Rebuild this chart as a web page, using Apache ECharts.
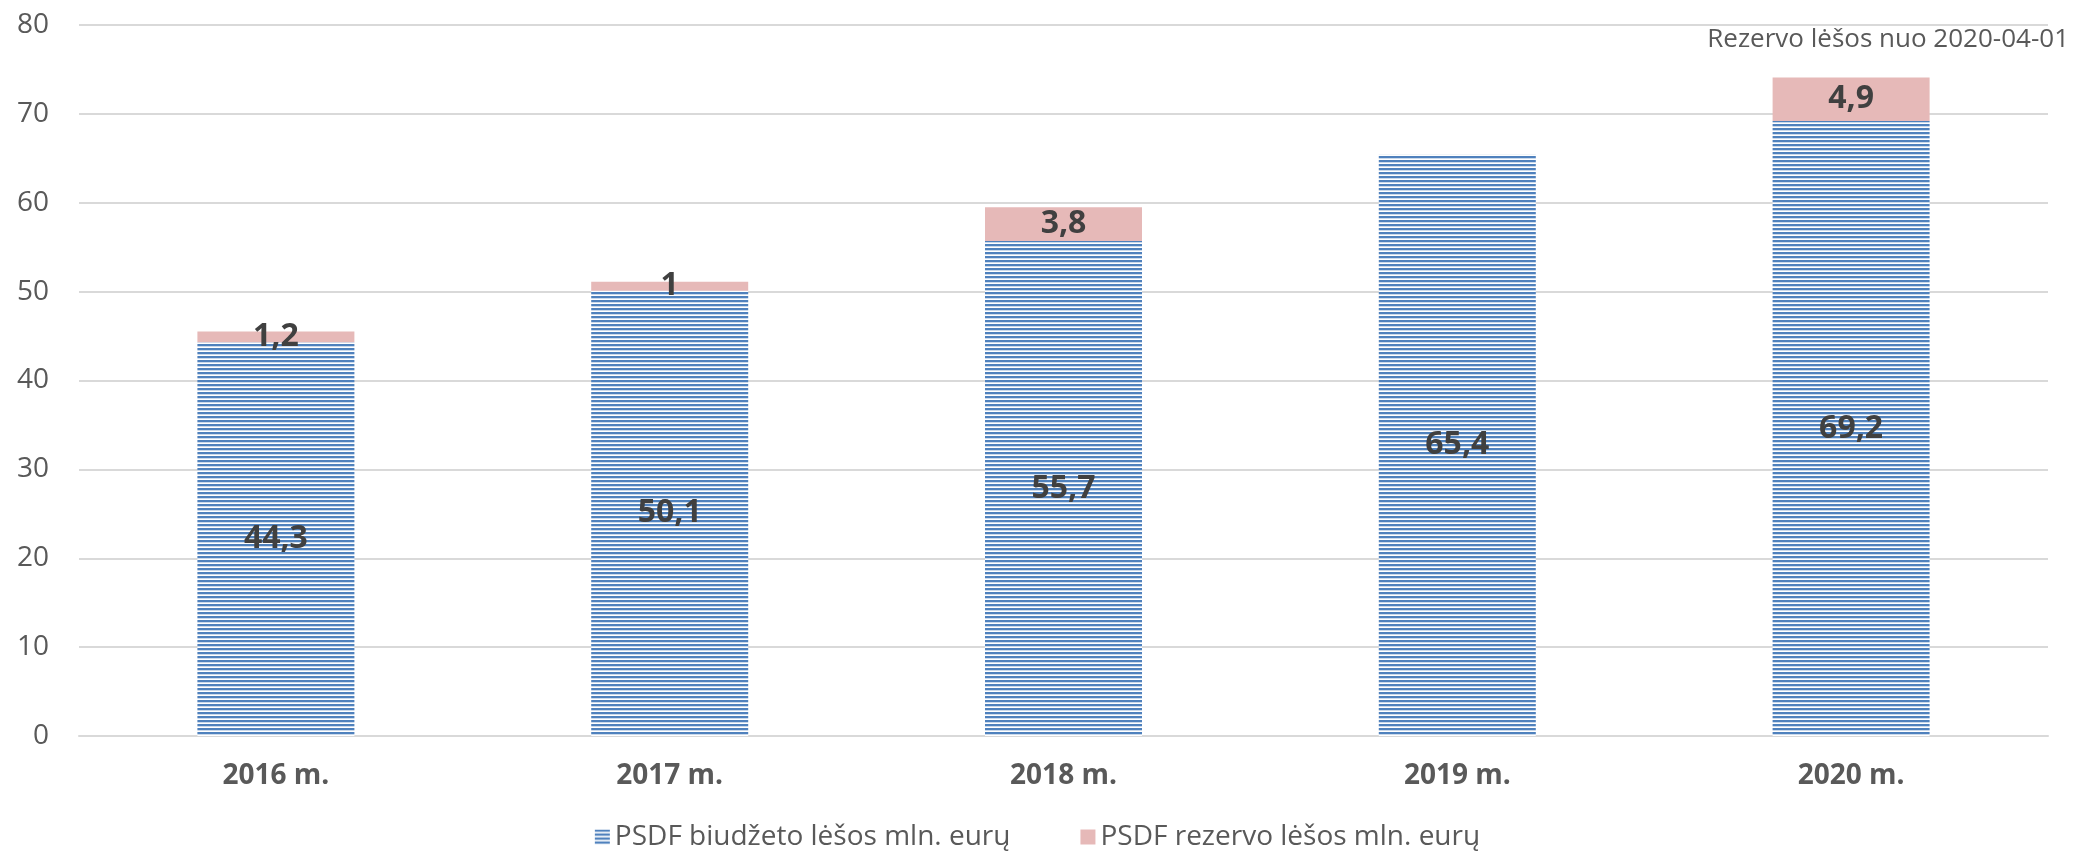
<!DOCTYPE html>
<html>
<head>
<meta charset="utf-8">
<script src="https://cdn.jsdelivr.net/npm/echarts@6/dist/echarts.min.js"></script>
<style>html,body{margin:0;padding:0;background:#fff}#c{width:2075px;height:856px}</style>
</head>
<body>
<div id="c"></div>
<script>
const categories = ['2016 m.', '2017 m.', '2018 m.', '2019 m.', '2020 m.'];
const budgetValues = [44.3, 50.1, 55.7, 65.4, 69.2];
const reserveValues = [1.2, 1.0, 3.8, null, 4.9];
const seriesNames = ['PSDF biudžeto lėšos mln. eurų', 'PSDF rezervo lėšos mln. eurų'];
const yTicks = { min: 0, max: 80, interval: 10 };
const note = 'Rezervo lėšos nuo 2020-04-01';

const blue = '#4F81BD';
const pink = '#E6B9B8';

function stripeCanvas() {
  const c = document.createElement('canvas');
  c.width = 8; c.height = 4;
  const g = c.getContext('2d');
  g.fillStyle = '#ffffff'; g.fillRect(0, 0, 8, 4);
  g.fillStyle = blue; g.fillRect(0, 0, 8, 2);
  g.globalAlpha = 0.3; g.fillRect(0, 2, 8, 1);
  return c;
}
const stripe = { image: stripeCanvas(), repeat: 'repeat' };

const fmt = p => (p.value == null ? '' : String(p.value).replace('.', ','));
const labelStyle = {
  show: true, position: 'inside', formatter: fmt,
  fontFamily: 'Open Sans', fontWeight: 'bold', fontSize: 32, color: '#404040'
};

const chart = echarts.init(document.getElementById('c'), null, { renderer: 'canvas' });
chart.setOption({
  animation: false,
  backgroundColor: '#ffffff',
  grid: { left: 79, right: 27, top: 25, bottom: 120, containLabel: false },
  xAxis: {
    type: 'category', data: categories,
    axisLine: { show: true, lineStyle: { color: '#D9D9D9', width: 2 } },
    axisTick: { show: false },
    axisLabel: { margin: 26, fontFamily: 'Open Sans', fontWeight: 'bold', fontSize: 28, color: '#595959' }
  },
  yAxis: {
    type: 'value', min: yTicks.min, max: yTicks.max, interval: yTicks.interval,
    axisLine: { show: false }, axisTick: { show: false },
    splitLine: { lineStyle: { color: '#D9D9D9', width: 2 } },
    axisLabel: { margin: 30, fontFamily: 'Open Sans', fontSize: 28, color: '#595959' }
  },
  legend: {
    bottom: 0, left: 'center', itemWidth: 15, itemHeight: 15, itemGap: 70,
    icon: 'rect',
    textStyle: { fontFamily: 'Open Sans', fontSize: 28, color: '#595959' },
    data: seriesNames
  },
  graphic: [{
    type: 'text', right: 6, top: 27,
    style: { text: note, fontFamily: 'Open Sans', fontSize: 26, fill: '#595959' }
  }],
  series: [
    { name: seriesNames[0], type: 'bar', stack: 's', barWidth: 157, data: budgetValues,
      itemStyle: { color: stripe }, label: labelStyle },
    { name: seriesNames[1], type: 'bar', stack: 's', barWidth: 157, data: reserveValues,
      itemStyle: { color: pink }, label: labelStyle }
  ]
});
</script>
</body>
</html>
